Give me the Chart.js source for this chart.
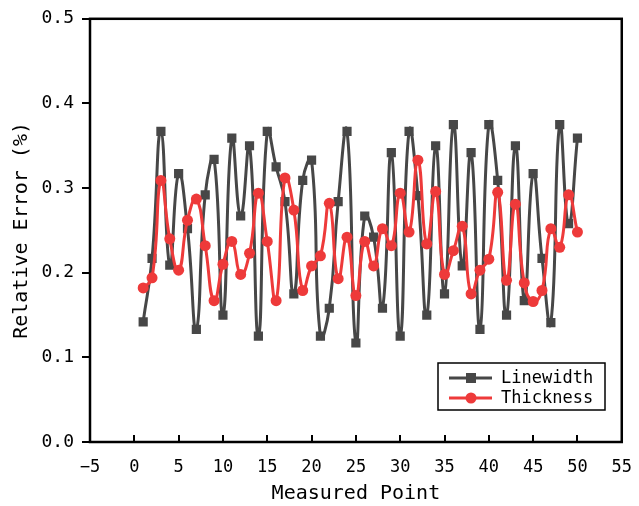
<!DOCTYPE html>
<html>
<head>
<meta charset="utf-8">
<script src="https://cdn.jsdelivr.net/npm/chart.js@4"></script>
<style>
  html, body { margin: 0; padding: 0; background: #fff; }
  #wrap { width: 639px; height: 506px; }
</style>
</head>
<body>
<div id="wrap"><canvas id="errChart" width="639" height="506"></canvas></div>
<script>
// measured point index 1..50
const points = [1,2,3,4,5,6,7,8,9,10,11,12,13,14,15,16,17,18,19,20,21,22,23,24,25,
                26,27,28,29,30,31,32,33,34,35,36,37,38,39,40,41,42,43,44,45,46,47,48,49,50];

const linewidth = [0.142,0.217,0.367,0.209,0.317,0.252,0.133,0.292,0.334,0.150,
                   0.359,0.267,0.350,0.125,0.367,0.325,0.284,0.175,0.309,0.333,
                   0.125,0.158,0.284,0.367,0.117,0.267,0.242,0.158,0.342,0.125,
                   0.367,0.291,0.150,0.350,0.175,0.375,0.208,0.342,0.133,0.375,
                   0.309,0.150,0.350,0.167,0.317,0.217,0.141,0.375,0.258,0.359];

const thickness = [0.182,0.194,0.309,0.240,0.203,0.262,0.287,0.232,0.167,0.210,
                   0.237,0.198,0.223,0.294,0.237,0.167,0.312,0.274,0.179,0.208,
                   0.220,0.282,0.193,0.242,0.173,0.237,0.208,0.252,0.232,0.294,
                   0.248,0.333,0.234,0.296,0.198,0.226,0.255,0.175,0.203,0.216,
                   0.295,0.191,0.281,0.188,0.166,0.179,0.252,0.230,0.292,0.248];

const xTicks = [-5,0,5,10,15,20,25,30,35,40,45,50,55];
const yTicks = [0.0,0.1,0.2,0.3,0.4,0.5];

const FONT = '"DejaVu Sans Mono", monospace';
const GRAY = '#474747';
const RED = '#ee3a3a';

// frame around the plot + inward ticks on the x axis
const framePlugin = {
    id: 'frame',
    afterDatasetsDraw(chart) {
        const {ctx, chartArea: a, scales} = chart;
        ctx.save();
        ctx.strokeStyle = '#000';
        ctx.lineWidth = 2;
        xTicks.forEach(v => {
            const px = Math.round(scales.x.getPixelForValue(v));
            ctx.beginPath();
            ctx.moveTo(px, a.bottom);
            ctx.lineTo(px, a.bottom - 7);
            ctx.stroke();
        });
        ctx.lineWidth = 2.5;
        ctx.strokeRect(a.left, a.top, a.right - a.left, a.bottom - a.top);
        ctx.restore();
    }
};

// boxed legend in the lower right corner of the plot
const boxLegend = {
    id: 'boxLegend',
    afterDraw(chart) {
        const ctx = chart.ctx;
        const x0 = 438, y0 = 363, w = 167, h = 47;
        ctx.save();
        ctx.fillStyle = '#fff';
        ctx.fillRect(x0, y0, w, h);
        ctx.strokeStyle = '#000';
        ctx.lineWidth = 1.5;
        ctx.strokeRect(x0, y0, w, h);
        chart.data.datasets.forEach((ds, i) => {
            const cy = y0 + 15 + i * 20;
            ctx.strokeStyle = ds.borderColor;
            ctx.lineWidth = 3;
            ctx.beginPath();
            ctx.moveTo(x0 + 11, cy);
            ctx.lineTo(x0 + 54, cy);
            ctx.stroke();
            ctx.fillStyle = ds.backgroundColor;
            if (ds.pointStyle === 'rect') {
                ctx.fillRect(x0 + 28, cy - 5, 10, 10);
            } else {
                ctx.beginPath();
                ctx.arc(x0 + 33, cy, 5.5, 0, Math.PI * 2);
                ctx.fill();
            }
            ctx.fillStyle = '#000';
            ctx.font = '17px ' + FONT;
            ctx.textBaseline = 'middle';
            ctx.fillText(ds.label, x0 + 63, cy + 1);
        });
        ctx.restore();
    }
};

new Chart(document.getElementById('errChart'), {
    type: 'line',
    data: {
        datasets: [{
            label: 'Linewidth',
            data: points.map((p, i) => ({x: p, y: linewidth[i]})),
            borderColor: GRAY,
            backgroundColor: GRAY,
            borderWidth: 3,
            pointStyle: 'rect',
            pointRadius: 6.5,
            pointBorderWidth: 0,
            tension: 0.5,
            order: 1
        }, {
            label: 'Thickness',
            data: points.map((p, i) => ({x: p, y: thickness[i]})),
            borderColor: RED,
            backgroundColor: RED,
            borderWidth: 3,
            pointStyle: 'circle',
            pointRadius: 5.5,
            pointBorderWidth: 0,
            tension: 0.5,
            order: 0
        }]
    },
    options: {
        responsive: false,
        animation: false,
        layout: { padding: { left: 0, top: 15, right: 12, bottom: 0 } },
        plugins: {
            legend: { display: false },
            tooltip: { enabled: false }
        },
        scales: {
            x: {
                type: 'linear',
                min: -5,
                max: 55,
                afterBuildTicks: s => { s.ticks = xTicks.map(v => ({value: v})); },
                afterFit: s => { s.height = 64; },
                grid: { display: false },
                border: { display: false },
                ticks: {
                    padding: 7,
                    color: '#000',
                    font: { family: FONT, size: 17 },
                    callback: v => String(v).replace('-', '\u2212')
                },
                title: {
                    display: true,
                    text: 'Measured Point',
                    color: '#000',
                    font: { family: FONT, size: 20 },
                    padding: { top: 0, bottom: 0 }
                }
            },
            y: {
                min: 0,
                max: 0.5,
                afterBuildTicks: s => { s.ticks = yTicks.map(v => ({value: v})); },
                afterFit: s => { s.width = 90; },
                grid: {
                    drawOnChartArea: false,
                    drawTicks: true,
                    tickLength: 8,
                    tickColor: '#000',
                    lineWidth: 2
                },
                border: { display: false },
                ticks: {
                    padding: 8,
                    color: '#000',
                    font: { family: FONT, size: 18 },
                    callback: v => v.toFixed(1)
                },
                title: {
                    display: true,
                    text: 'Relative Error (%)',
                    color: '#000',
                    font: { family: FONT, size: 20 },
                    padding: { top: 10, bottom: 0 }
                }
            }
        }
    },
    plugins: [framePlugin, boxLegend]
});
</script>
</body>
</html>
